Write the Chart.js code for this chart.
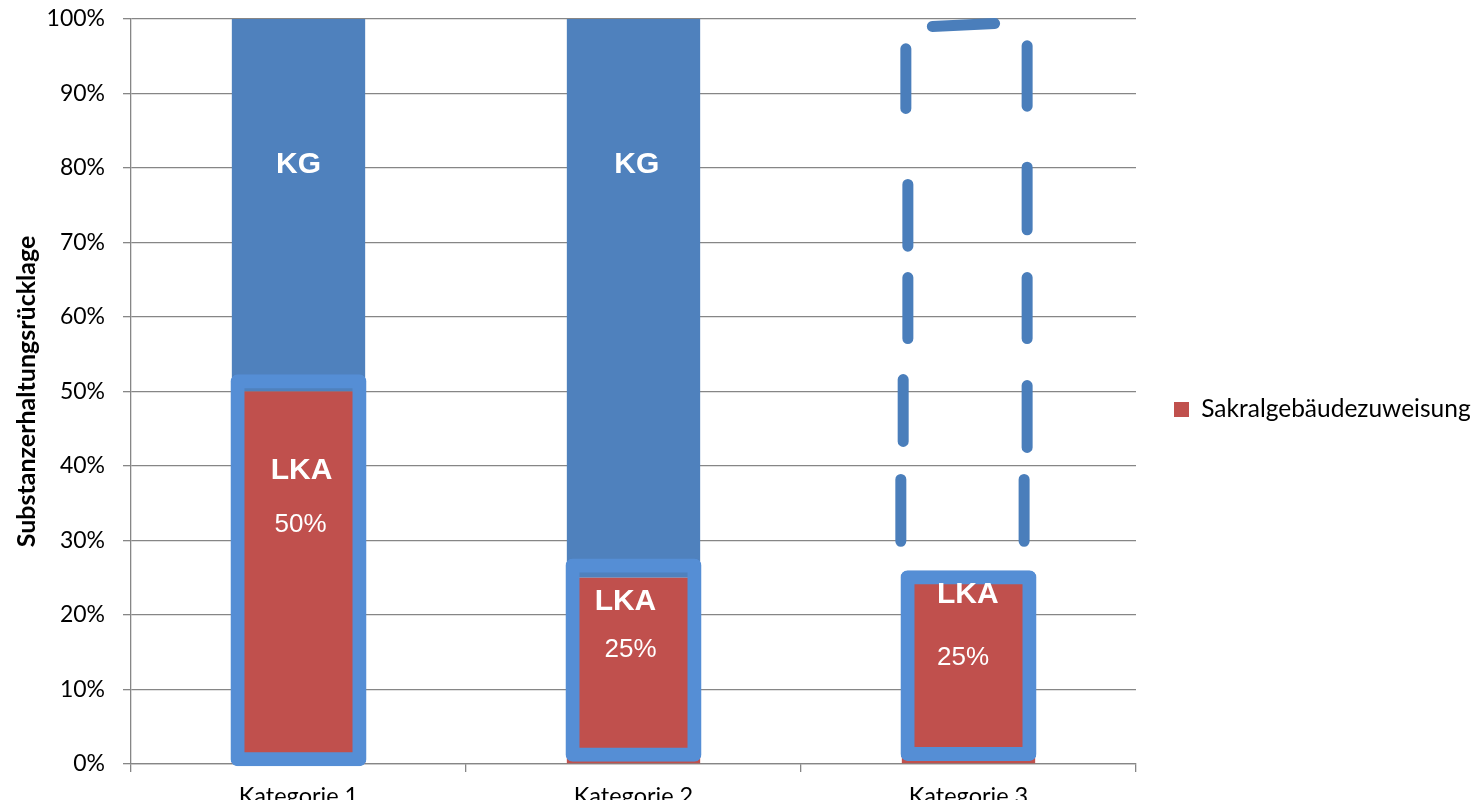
<!DOCTYPE html>
<html>
<head>
<meta charset="utf-8">
<script src="https://cdn.jsdelivr.net/npm/chart.js@4.4.1/dist/chart.umd.min.js"></script>
<style>
  html, body { margin: 0; padding: 0; background: #ffffff; overflow: hidden; }
  #wrap { width: 1483px; height: 811px; position: relative; }
  canvas { display: block; }
</style>
</head>
<body>
<div id="wrap"><canvas id="chart" width="1483" height="811"></canvas></div>
<script>
// ---- data ----
const categories = ['Kategorie 1', 'Kategorie 2', 'Kategorie 3'];
const lkaShare = [50, 25, 25];          // Sakralgebäudezuweisung (LKA), in %
const kgShare = [50, 75, null];         // KG share; Kategorie 3 is left open
const frameLow = [-0.3, 0.3, 0.4];      // highlight frame around the LKA part, in %
const frameHigh = [52.3, 27.6, 26.0];
const yTickValues = [0, 10, 20, 30, 40, 50, 60, 70, 80, 90, 100];

// open dashed outline over Kategorie 3: x in category units, y in %
const outlineX = [
  1.798, 1.798, null, 1.805, 1.805, null, 1.819, 1.819, null, 1.819, 1.819, null, 1.813, 1.813, null,
  2.166, 2.166, null, 2.175, 2.175, null, 2.175, 2.175, null, 2.175, 2.175, null, 2.175, 2.175, null,
  1.892, 2.078
];
const outlineY = [
  29.9, 38.2, null, 43.3, 51.6, null, 57.1, 65.3, null, 69.5, 77.8, null, 88.0, 96.0, null,
  29.9, 38.2, null, 42.5, 50.8, null, 57.1, 65.3, null, 71.7, 80.1, null, 88.3, 96.4, null,
  99.0, 99.4
];

// in-bar captions
const kgName = 'KG';
const lkaName = 'LKA';
const lkaTagY = [39.3, 21.8, 22.7];
const lkaTagDx = [0.009, -0.024, -0.002];
const valueTagY = [32.1, 15.3, 14.2];
const valueTagDx = [0.006, -0.009, -0.016];
const kgTagY = [80.4, 80.4, null];
const kgTagDx = [0, 0.010, 0];

// ---- styling ----
const BLUE = '#4F81BD';
const RED = '#C0504D';
const FRAME = '#558ED5';
const DASH = '#4A7EBB';
const GRID = '#868686';
const AXIS_FONT = 'Lato';

const outlinePoints = outlineX.map((x, i) =>
  x === null ? { x: null, y: null } : { x: x, y: outlineY[i] });

// fixed legend width so the plot area ends where the category axis ends
const legendWidthPlugin = {
  id: 'legendWidth',
  beforeUpdate(chart) {
    const lg = chart.legend;
    if (lg && !lg._fixedWidth) {
      const fit = lg.fit.bind(lg);
      lg.fit = function () { fit(); this.width = 347; };
      lg._fixedWidth = true;
    }
  }
};

// captions inside the bars
const captionPlugin = {
  id: 'captions',
  afterDatasetsDraw(chart) {
    const { ctx } = chart;
    const xs = chart.scales.x, ys = chart.scales.y;
    const step = xs.width / categories.length;
    ctx.save();
    ctx.fillStyle = '#ffffff';
    ctx.textAlign = 'center';
    ctx.textBaseline = 'middle';
    categories.forEach((c, i) => {
      const cx = xs.getPixelForValue(i);
      if (kgShare[i] !== null && kgTagY[i] !== null) {
        ctx.font = 'bold 30px "Liberation Sans", Arial, sans-serif';
        ctx.fillText(kgName, cx + kgTagDx[i] * step, ys.getPixelForValue(kgTagY[i]));
      }
      ctx.font = 'bold 30px "Liberation Sans", Arial, sans-serif';
      ctx.fillText(lkaName, cx + lkaTagDx[i] * step, ys.getPixelForValue(lkaTagY[i]));
      ctx.font = '26px "Liberation Sans", Arial, sans-serif';
      ctx.fillText(lkaShare[i] + '%', cx + valueTagDx[i] * step, ys.getPixelForValue(valueTagY[i]));
    });
    ctx.restore();
  }
};

new Chart(document.getElementById('chart'), {
  type: 'bar',
  data: {
    labels: categories,
    datasets: [
      {
        label: 'Rahmen',
        data: frameLow.map((v, i) => [v, frameHigh[i]]),
        yAxisID: 'yf',
        grouped: false,
        order: 0,
        backgroundColor: 'rgba(0,0,0,0)',
        borderColor: FRAME,
        borderWidth: 14,
        borderRadius: 7,
        borderSkipped: false,
        barPercentage: 0.406,
        categoryPercentage: 1,
        clip: false
      },
      {
        label: 'Sakralgebäudezuweisung',
        data: lkaShare,
        grouped: false,
        order: 1,
        backgroundColor: RED,
        borderWidth: 0,
        barPercentage: 0.398,
        categoryPercentage: 1
      },
      {
        label: 'KG',
        data: kgShare,
        grouped: false,
        order: 2,
        backgroundColor: BLUE,
        borderWidth: 0,
        barPercentage: 0.398,
        categoryPercentage: 1
      },
      {
        type: 'line',
        label: 'offen',
        data: outlinePoints,
        xAxisID: 'x2',
        yAxisID: 'y2',
        order: 0,
        borderColor: DASH,
        borderWidth: 11,
        borderCapStyle: 'round',
        borderJoinStyle: 'round',
        pointRadius: 0,
        spanGaps: false,
        fill: false,
        clip: false
      }
    ]
  },
  options: {
    responsive: false,
    animation: false,
    events: [],
    layout: { padding: { top: 19, bottom: 11, left: 0, right: 0 } },
    scales: {
      x: {
        type: 'category',
        stacked: true,
        offset: true,
        afterFit(s) { s.height = 36; s.paddingLeft = 0; s.paddingRight = 0; },
        grid: { display: true, drawOnChartArea: false, drawTicks: true, tickLength: 8, color: GRID, lineWidth: 1.3, offset: true },
        border: { display: true, color: GRID, width: 1.3 },
        ticks: { color: '#000000', padding: 10, font: { family: AXIS_FONT, size: 23.5 } }
      },
      y: {
        type: 'linear',
        stacked: true,
        min: 0,
        max: 100,
        afterFit(s) { s.width = 131; s.paddingTop = 0; s.paddingBottom = 0; },
        afterBuildTicks(s) { s.ticks = yTickValues.map(v => ({ value: v })); },
        grid: { color: GRID, lineWidth: 1.3, tickLength: 8, drawTicks: true },
        border: { display: true, color: GRID, width: 1.3 },
        ticks: {
          color: '#000000',
          padding: 18,
          font: { family: AXIS_FONT, size: 23 },
          callback: v => v + '%'
        },
        title: {
          display: true,
          text: 'Substanzerhaltungsrücklage',
          color: '#000000',
          font: { family: AXIS_FONT, size: 25, weight: 'bold' },
          padding: { top: 12, bottom: 0 }
        }
      },
      yf: { type: 'linear', display: false, min: 0, max: 100, stacked: false },
      x2: { type: 'linear', display: false, min: -0.5, max: 2.5, offset: false, grid: { offset: false } },
      y2: { type: 'linear', display: false, min: 0, max: 100 }
    },
    plugins: {
      tooltip: { enabled: false },
      legend: {
        display: true,
        position: 'right',
        labels: {
          filter: item => item.text === 'Sakralgebäudezuweisung',
          boxWidth: 15,
          boxHeight: 15,
          padding: 38,
          color: '#000000',
          font: { family: AXIS_FONT, size: 24.5 }
        }
      }
    }
  },
  plugins: [legendWidthPlugin, captionPlugin]
});
</script>
</body>
</html>
